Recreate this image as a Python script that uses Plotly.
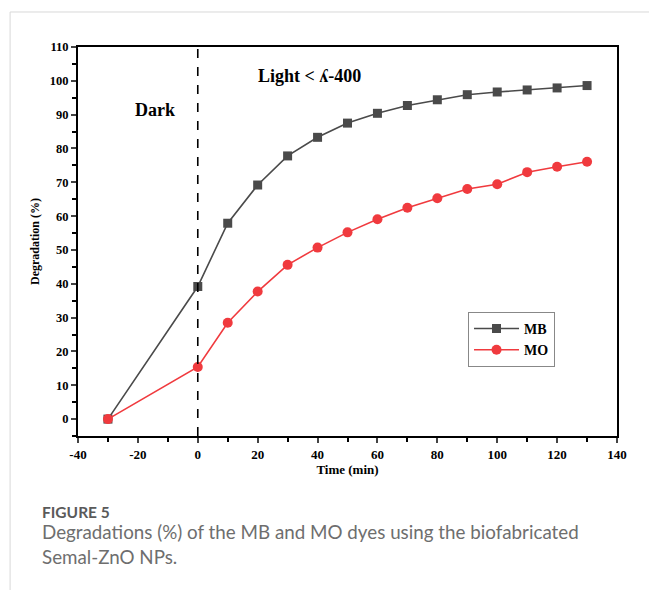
import plotly.graph_objects as go

time = [-30, 0, 10, 20, 30, 40, 50, 60, 70, 80, 90, 100, 110, 120, 130]
mb = [0, 39.2, 57.9, 69.2, 77.8, 83.3, 87.5, 90.4, 92.7, 94.4, 95.9, 96.7, 97.3, 97.9, 98.6]
mo = [0, 15.4, 28.5, 37.7, 45.6, 50.7, 55.2, 59.1, 62.5, 65.3, 68.0, 69.4, 73.0, 74.6, 76.1]
x_ticks = [-40, -20, 0, 20, 40, 60, 80, 100, 120, 140]
x_labels = ["<b>-40</b>", "<b>-20</b>", "<b>0</b>", "<b>20</b>", "<b>40</b>", "<b>60</b>",
            "<b>80</b>", "<b>100</b>", "<b>120</b>", "<b>140</b>"]
y_ticks = [0, 10, 20, 30, 40, 50, 60, 70, 80, 90, 100, 110]
y_labels = ["<b>%d</b>" % v for v in y_ticks]

serif = "Liberation Serif, Times New Roman, serif"
fig = go.Figure()
fig.add_trace(go.Scatter(x=time, y=mb, name="<b>MB</b>", mode="lines+markers",
                         line=dict(color="#4a4a4a", width=1.6),
                         marker=dict(symbol="square", size=9, color="#4a4a4a")))
fig.add_trace(go.Scatter(x=time, y=mo, name="<b>MO</b>", mode="lines+markers",
                         line=dict(color="#f03a3e", width=1.6),
                         marker=dict(symbol="circle", size=10, color="#f03a3e")))

fig.add_shape(type="line", x0=0, x1=0, y0=0, y1=1, xref="x", yref="paper",
              line=dict(color="black", width=1.6, dash="dash"))
# page border lines
fig.add_shape(type="line", x0=-0.126, x1=1.1, y0=1.09, y1=1.09, xref="paper", yref="paper",
              line=dict(color="#d8d8d8", width=1), layer="below")
fig.add_shape(type="line", x0=-0.126, x1=-0.126, y0=1.09, y1=-0.4, xref="paper", yref="paper",
              line=dict(color="#d8d8d8", width=1), layer="below")

fig.update_layout(
    width=649, height=590,
    margin=dict(l=78, r=32, t=47, b=154),
    paper_bgcolor="white", plot_bgcolor="white",
    font=dict(family=serif, color="black"),
    showlegend=True,
    legend=dict(x=0.7236, y=0.319, xanchor="left", yanchor="top",
                bordercolor="#888888", borderwidth=1, bgcolor="white",
                font=dict(family=serif, size=14, color="black"),
                tracegroupgap=2, itemwidth=45),
    xaxis=dict(range=[-40, 140], tickvals=x_ticks, ticktext=x_labels, ticks="outside", ticklen=5,
               tickwidth=1.5, showline=True, linewidth=2, linecolor="black", mirror=True,
               showgrid=False, zeroline=False,
               tickfont=dict(family=serif, size=13, color="black"),
               minor=dict(dtick=10, ticks="outside", ticklen=4, tickwidth=1.5, tickcolor="black"),
               title=dict(text="<b>Time (min)</b>", font=dict(family=serif, size=13), standoff=3)),
    yaxis=dict(range=[-5, 110], tickvals=y_ticks, ticktext=y_labels, ticks="outside", ticklen=5,
               tickwidth=1.5, showline=True, linewidth=2, linecolor="black", mirror=True,
               showgrid=False, zeroline=False,
               tickfont=dict(family=serif, size=12.5, color="black"),
               minor=dict(dtick=5, ticks="outside", ticklen=4, tickwidth=1.5, tickcolor="black"),
               title=dict(text="<b>Degradation (%)</b>", font=dict(family=serif, size=12), standoff=8)),
)

fig.add_annotation(x=-14.3, y=91.4, text="<b>Dark</b>", showarrow=False,
                   font=dict(family=serif, size=18, color="black"))
fig.add_annotation(x=37.3, y=101.5, text="<b>Light < ʎ-400</b>", showarrow=False,
                   font=dict(family=serif, size=18, color="black"))

sans = "Lato, Open Sans, sans-serif"
x_cap = (40 - 78) / 539
fig.add_annotation(xref="paper", yref="paper", x=x_cap, y=-(512 - 436) / 389,
                   xanchor="left", yanchor="middle", text="<b>FIGURE 5</b>", showarrow=False,
                   font=dict(family=sans, size=15.5, color="#5a5a5a"))
fig.add_annotation(xref="paper", yref="paper", x=x_cap, y=-(531 - 436) / 389,
                   xanchor="left", yanchor="middle", align="left", showarrow=False,
                   text="Degradations (%) of the MB and MO dyes using the biofabricated",
                   font=dict(family=sans, size=18.8, color="#6e6e6e"))
fig.add_annotation(xref="paper", yref="paper", x=x_cap, y=-(556 - 436) / 389,
                   xanchor="left", yanchor="middle", align="left", showarrow=False,
                   text="Semal-ZnO NPs.",
                   font=dict(family=sans, size=18.8, color="#6e6e6e"))

fig.write_html("out.html")
